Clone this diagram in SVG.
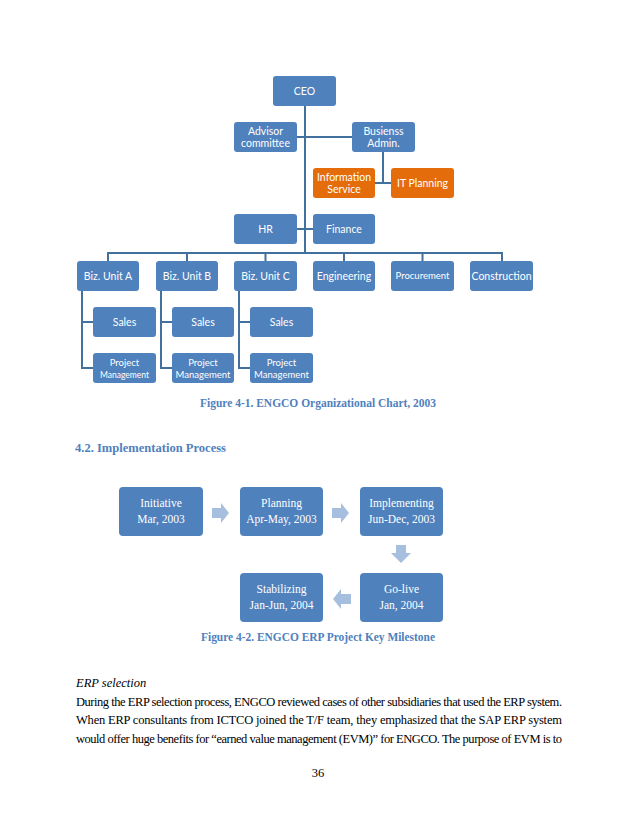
<svg xmlns="http://www.w3.org/2000/svg" width="638" height="826" viewBox="0 0 638 826">
<style>
.b{fill:#4F81BD}
.o{fill:#E46C0A}
.t{font-family:Lato,"Liberation Sans",sans-serif;font-size:10.5px;fill:#fff;text-anchor:middle}
.ts{font-family:Lato,"Liberation Sans",sans-serif;font-size:8.5px;fill:#fff;text-anchor:middle}
.c{stroke:#41719C;stroke-width:2;fill:none}
.m{font-family:"Liberation Serif",serif;font-size:11.5px;fill:#fff;text-anchor:middle}
.a{fill:#A7BFDE}
.cap{font-family:"Liberation Serif",serif;font-weight:bold;font-size:11.5px;fill:#4F81BD}
.body{font-family:"Liberation Serif",serif;font-size:12.5px;fill:#000}
</style>
<rect width="638" height="826" fill="#fff"/>
<g id="connectors">
<path class="c" d="M305,106V253M297,137H352M383,152V183M375,183H391M297,229H313"/>
<path class="c" d="M108,262V253H502V262M187,253V262M265.5,253V262M344,253V262M422.5,253V262"/>
<path class="c" d="M82,291V368H93M82,322H93M161,291V368H172M161,322H172M239,291V368H250M239,322H250"/>
</g>
<g id="ceo"><rect class="b" x="273" y="76" width="63" height="30" rx="3"/><text class="t" x="304.5" y="95">CEO</text></g>
<g id="advisor"><rect class="b" x="234" y="122" width="63" height="30" rx="3"/><text class="t" x="265.5" y="135">Advisor</text><text class="t" x="265.5" y="147">committee</text></g>
<g id="busadmin"><rect class="b" x="352" y="122" width="63" height="30" rx="3"/><text class="t" x="383.5" y="135">Busienss</text><text class="t" x="383.5" y="147">Admin.</text></g>
<g id="infoservice"><rect class="o" x="313" y="168" width="62" height="30" rx="3"/><text class="t" x="344" y="181">Information</text><text class="t" x="344" y="193">Service</text></g>
<g id="itplanning"><rect class="o" x="391" y="168" width="63" height="30" rx="3"/><text class="t" x="422.5" y="187">IT Planning</text></g>
<g id="hr"><rect class="b" x="234" y="214" width="63" height="30" rx="3"/><text class="t" x="265.5" y="233">HR</text></g>
<g id="finance"><rect class="b" x="313" y="214" width="62" height="30" rx="3"/><text class="t" x="344" y="233">Finance</text></g>
<g id="bizA"><rect class="b" x="77" y="261" width="62" height="30" rx="3"/><text class="t" x="108" y="279.5">Biz. Unit A</text></g>
<g id="bizB"><rect class="b" x="156" y="261" width="62" height="30" rx="3"/><text class="t" x="187" y="279.5">Biz. Unit B</text></g>
<g id="bizC"><rect class="b" x="234" y="261" width="63" height="30" rx="3"/><text class="t" x="265.5" y="279.5">Biz. Unit C</text></g>
<g id="engineering"><rect class="b" x="313" y="261" width="62" height="30" rx="3"/><text class="t" x="344" y="279.5">Engineering</text></g>
<g id="procurement"><rect class="b" x="391" y="261" width="63" height="30" rx="3"/><text class="ts" x="422.5" y="279" style="font-size:9.5px">Procurement</text></g>
<g id="construction"><rect class="b" x="470" y="261" width="63" height="30" rx="3"/><text class="t" x="501.5" y="279.5">Construction</text></g>
<g id="salesA"><rect class="b" x="93" y="307" width="63" height="30" rx="3"/><text class="t" x="124.5" y="325.5">Sales</text></g>
<g id="salesB"><rect class="b" x="172" y="307" width="62" height="30" rx="3"/><text class="t" x="203" y="325.5">Sales</text></g>
<g id="salesC"><rect class="b" x="250" y="307" width="63" height="30" rx="3"/><text class="t" x="281.5" y="325.5">Sales</text></g>
<g id="pmA"><rect class="b" x="93" y="353" width="63" height="30" rx="3"/><text class="ts" x="124.5" y="366" style="font-size:9.5px">Project</text><text class="ts" x="124.5" y="377.5">Management</text></g>
<g id="pmB"><rect class="b" x="172" y="353" width="62" height="30" rx="3"/><text class="ts" x="203" y="366" style="font-size:9.5px">Project</text><text class="ts" x="203" y="377.5" style="font-size:9.5px">Management</text></g>
<g id="pmC"><rect class="b" x="250" y="353" width="63" height="30" rx="3"/><text class="ts" x="281.5" y="366" style="font-size:9.5px">Project</text><text class="ts" x="281.5" y="377.5" style="font-size:9.5px">Management</text></g>
<text class="cap" x="200" y="407" textLength="236" lengthAdjust="spacingAndGlyphs">Figure 4-1. ENGCO Organizational Chart, 2003</text>
<text class="cap" x="75" y="452" style="font-size:12.5px" textLength="151" lengthAdjust="spacingAndGlyphs">4.2. Implementation Process</text>
<g id="arrows">
<path class="a" d="M212,508H221V503L229,513L221,523V518H212Z"/>
<path class="a" d="M332,508H341V503L349,513L341,523V518H332Z"/>
<path class="a" d="M396,545V553H391L401,563L411,553H406V545Z"/>
<path class="a" d="M351,594H341V589L333,599L341,609V604H351Z"/>
</g>
<g id="initiative"><rect class="b" x="119" y="487" width="84" height="49" rx="4"/><text class="m" x="161" y="507">Initiative</text><text class="m" x="161" y="523">Mar, 2003</text></g>
<g id="planning"><rect class="b" x="240" y="487" width="83" height="49" rx="4"/><text class="m" x="281.5" y="507">Planning</text><text class="m" x="281.5" y="523">Apr-May, 2003</text></g>
<g id="implementing"><rect class="b" x="360" y="487" width="83" height="49" rx="4"/><text class="m" x="401.5" y="507">Implementing</text><text class="m" x="401.5" y="523">Jun-Dec, 2003</text></g>
<g id="golive"><rect class="b" x="360" y="573" width="83" height="49" rx="4"/><text class="m" x="401.5" y="593">Go-live</text><text class="m" x="401.5" y="609">Jan, 2004</text></g>
<g id="stabilizing"><rect class="b" x="240" y="573" width="83" height="49" rx="4"/><text class="m" x="281.5" y="593">Stabilizing</text><text class="m" x="281.5" y="609">Jan-Jun, 2004</text></g>
<text class="cap" x="201" y="641" textLength="234" lengthAdjust="spacingAndGlyphs">Figure 4-2. ENGCO ERP Project Key Milestone</text>
<text class="body" x="76" y="687" font-style="italic">ERP selection</text>
<text class="body" x="76" y="705.5" textLength="486" lengthAdjust="spacing">During the ERP selection process, ENGCO reviewed cases of other subsidiaries that used the ERP system.</text>
<text class="body" x="76" y="724" textLength="486" lengthAdjust="spacing">When ERP consultants from ICTCO joined the T/F team, they emphasized that the SAP ERP system</text>
<text class="body" x="76" y="742.5" textLength="486" lengthAdjust="spacing">would offer huge benefits for “earned value management (EVM)” for ENGCO. The purpose of EVM is to</text>
<text class="body" x="318" y="777" text-anchor="middle">36</text>
</svg>
